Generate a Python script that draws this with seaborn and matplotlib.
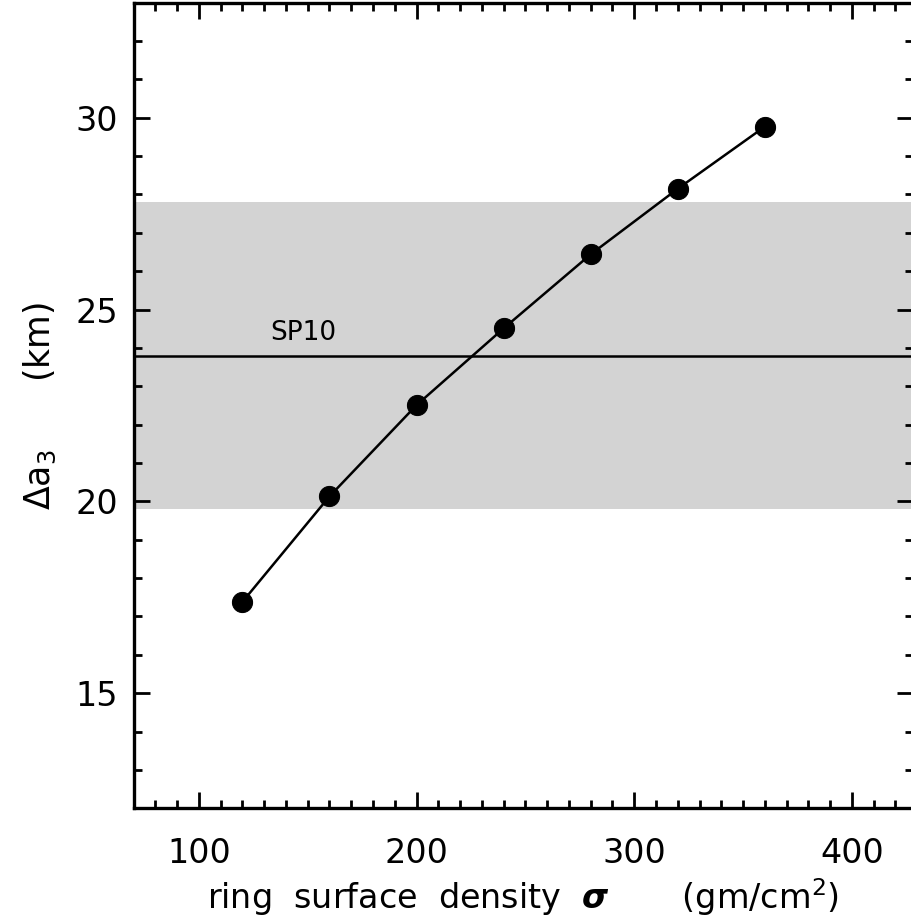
import numpy as np
import pandas as pd
import matplotlib
matplotlib.use("Agg")
import matplotlib.pyplot as plt
import seaborn as sns
from matplotlib.ticker import MultipleLocator

# data
sigma = [120, 160, 200, 240, 280, 320, 360]
delta_a3 = [17.38, 20.13, 22.51, 24.51, 26.44, 28.15, 29.77]
sp10_value = 23.78
sp10_low, sp10_high = 19.8, 27.8

df = pd.DataFrame({"sigma": sigma, "da3": delta_a3})

sns.set_style("ticks")
plt.rcParams["font.family"] = ["DejaVu Sans"]
plt.rcParams["mathtext.default"] = "regular"
plt.rcParams["text.color"] = "black"
plt.rcParams["axes.labelcolor"] = "black"
plt.rcParams["xtick.color"] = "black"
plt.rcParams["ytick.color"] = "black"
plt.rcParams["axes.edgecolor"] = "black"

fig = plt.figure(figsize=(9.12, 9.24), dpi=100)
ax = fig.add_axes([0.1464, 0.1252, 0.8546, 0.8719])

ax.axhspan(sp10_low, sp10_high, color="#d3d3d3", lw=0, zorder=0)
ax.axhline(sp10_value, color="black", lw=1.8, zorder=1)
ax.text(148, 24.4, "SP10", ha="center", va="center", fontsize=19)

sns.lineplot(data=df, x="sigma", y="da3", ax=ax, color="black", lw=1.8,
             marker="o", markersize=14.5, markeredgecolor="black",
             markerfacecolor="black", zorder=3)

ax.set_xlim(70, 428)
ax.set_ylim(12, 33)
ax.xaxis.set_major_locator(MultipleLocator(100))
ax.xaxis.set_minor_locator(MultipleLocator(10))
ax.yaxis.set_major_locator(MultipleLocator(5))
ax.yaxis.set_minor_locator(MultipleLocator(1))

for s in ax.spines.values():
    s.set_linewidth(2.4)
    s.set_visible(True)
ax.tick_params(which="both", direction="in", top=True, right=True,
               width=2, labelsize=24)
ax.tick_params(which="major", length=11.5)
ax.tick_params(which="minor", length=6)
ax.tick_params(axis="x", pad=21)
ax.tick_params(axis="y", pad=11)

ax.set_xlabel(r"ring  surface  density  $\mathbfit{\sigma}$       (gm/cm$^2$)",
              fontsize=24, labelpad=4)
ax.set_ylabel(r"$\Delta a_3$      (km)", fontsize=25, labelpad=13)

fig.savefig("out.png", dpi=100)
